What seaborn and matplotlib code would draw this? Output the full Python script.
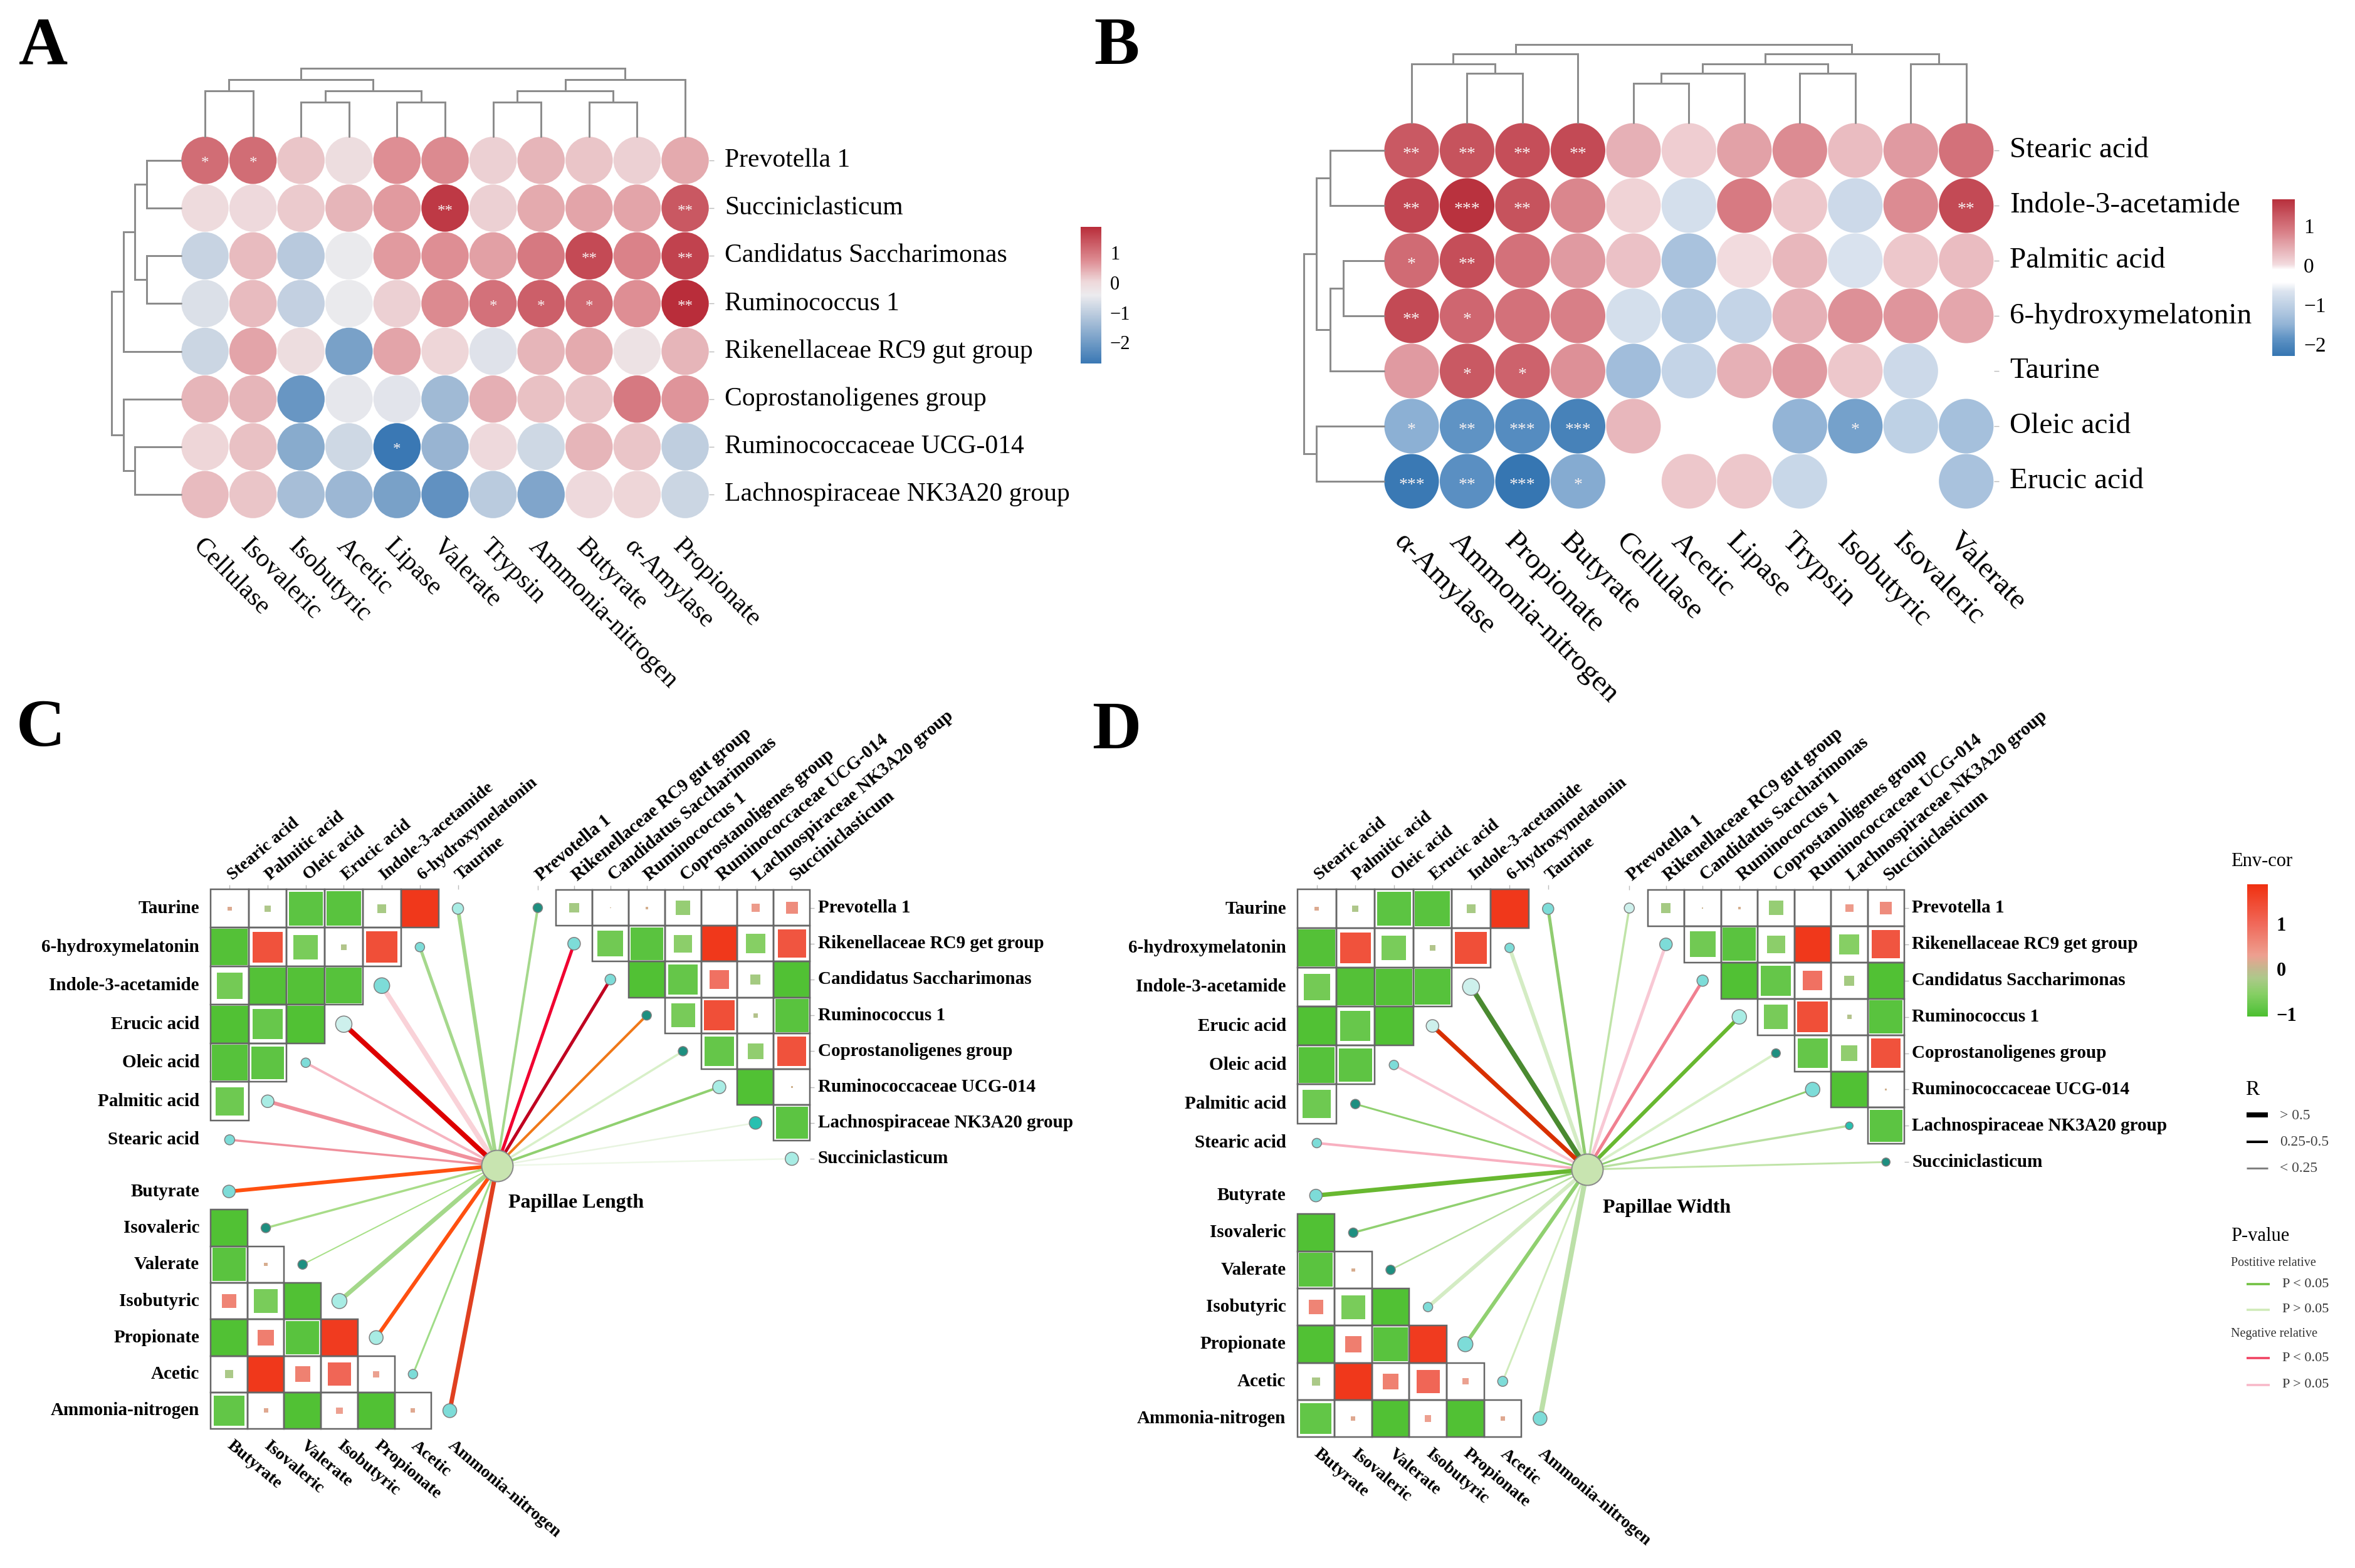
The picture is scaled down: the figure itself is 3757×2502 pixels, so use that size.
import numpy as np
import pandas as pd
import matplotlib
matplotlib.use("Agg")
import matplotlib.pyplot as plt
from matplotlib.cm import ScalarMappable
from matplotlib.colors import LinearSegmentedColormap, Normalize
from matplotlib.patches import Rectangle
from matplotlib.transforms import ScaledTranslation
import seaborn as sns

sns.set_style("white")
plt.rcParams["font.family"] = ["Liberation Serif", "DejaVu Serif"]
plt.rcParams["text.color"] = "black"
plt.rcParams["xtick.labelcolor"] = "black"
plt.rcParams["ytick.labelcolor"] = "black"

W, H = 3757, 2502
PT = 0.72  # px to points at dpi 100

# ---- panel A data
a_cols = ["Cellulase", "Isovaleric", "Isobutyric", "Acetic", "Lipase", "Valerate",
          "Trypsin", "Ammonia-nitrogen", "Butyrate", "α-Amylase", "Propionate"]
a_rows = ["Prevotella 1", "Succiniclasticum", "Candidatus Saccharimonas", "Ruminococcus 1",
          "Rikenellaceae RC9 gut group", "Coprostanoligenes group",
          "Ruminococcaceae UCG-014", "Lachnospiraceae NK3A20 group"]
a_vals = [
    [1.10, 1.10, 0.20, -0.10, 0.70, 0.75, 0.10, 0.35, 0.20, 0.10, 0.45],
    [-0.05, 0.00, 0.15, 0.35, 0.60, 1.70, 0.10, 0.45, 0.50, 0.50, 1.35],
    [-0.90, 0.30, -1.10, -0.45, 0.60, 0.70, 0.55, 0.95, 1.50, 0.85, 1.60],
    [-0.65, 0.30, -0.95, -0.45, 0.10, 0.75, 1.05, 1.25, 1.15, 0.70, 1.85],
    [-0.85, 0.50, -0.10, -1.90, 0.50, 0.05, -0.60, 0.35, 0.45, -0.20, 0.35],
    [0.35, 0.35, -2.10, -0.50, -0.55, -1.40, 0.40, 0.25, 0.20, 0.95, 0.65],
    [0.05, 0.25, -1.70, -0.80, -2.70, -1.50, 0.00, -0.80, 0.35, 0.20, -1.00],
    [0.30, 0.20, -1.30, -1.45, -1.90, -2.20, -1.05, -1.80, 0.00, 0.05, -0.85],
]
a_stars = {(0, 0): "*", (0, 1): "*", (1, 5): "**", (1, 10): "**", (2, 8): "**", (2, 10): "**",
           (3, 6): "*", (3, 7): "*", (3, 8): "*", (3, 10): "**", (6, 4): "*"}
a_col_tree = (109, (91, (73, 0, 1), (73, (54.5, 2, 3), (54.5, 4, 5))),
              (91, (73, (54.5, 6, 7), (54.5, 8, 9)), 10))
a_row_tree = (111, (92, (74, (55, 0, 1), (55, 2, 3)), 4), (92, 5, (74, 6, 7)))

# ---- panel B data
b_cols = ["α-Amylase", "Ammonia-nitrogen", "Propionate", "Butyrate", "Cellulase", "Acetic",
          "Lipase", "Trypsin", "Isobutyric", "Isovaleric", "Valerate"]
b_rows = ["Stearic acid", "Indole-3-acetamide", "Palmitic acid", "6-hydroxymelatonin",
          "Taurine", "Oleic acid", "Erucic acid"]
b_vals = [
    [1.25, 1.30, 1.35, 1.40, 0.40, 0.15, 0.55, 0.75, 0.30, 0.60, 1.00],
    [1.45, 1.65, 1.30, 0.80, 0.10, -0.75, 0.90, 0.20, -0.85, 0.75, 1.40],
    [1.05, 1.35, 1.00, 0.60, 0.25, -1.25, 0.02, 0.35, -0.70, 0.20, 0.30],
    [1.40, 1.10, 1.00, 0.85, -0.75, -1.10, -0.95, 0.40, 0.70, 0.65, 0.50],
    [0.60, 1.25, 1.15, 0.70, -1.35, -0.95, 0.40, 0.60, 0.20, -0.85, np.nan],
    [-1.55, -1.85, -1.95, -2.10, 0.35, np.nan, np.nan, -1.50, -1.70, -1.00, -1.30],
    [-2.25, -1.90, -2.30, -1.60, np.nan, 0.20, 0.20, -0.90, np.nan, np.nan, -1.25],
]
b_stars = {(0, 0): "**", (0, 1): "**", (0, 2): "**", (0, 3): "**",
           (1, 0): "**", (1, 1): "***", (1, 2): "**", (1, 10): "**",
           (2, 0): "*", (2, 1): "**", (3, 0): "**", (3, 1): "*", (4, 1): "*", (4, 2): "*",
           (5, 0): "*", (5, 1): "**", (5, 2): "***", (5, 3): "***", (5, 8): "*",
           (6, 0): "***", (6, 1): "**", (6, 2): "***", (6, 3): "*"}
b_col_tree = (125.5, (110, (94, 0, (79, 1, 2)), 3),
              (110, (94, (79, (63, 4, 5), 6), (79, 7, 8)), (94, 9, 10)))
b_row_tree = (128, (108, (86, 0, 1), (86, (65, 2, 3), 4)), (108, 5, 6))

# ---- panels C and D: shared correlation triangles
acid_cols = ["Stearic acid", "Palmitic acid", "Oleic acid", "Erucic acid",
             "Indole-3-acetamide", "6-hydroxymelatonin", "Taurine"]
acid_rows = acid_cols[::-1]
acid_tri = [
    [0.18, -0.17, -0.90, -0.93, -0.24, 1.75],
    [-0.98, 1.35, -0.65, -0.15, 1.40],
    [-0.70, -0.98, -0.97, -0.95],
    [-1.00, -0.80, -1.00],
    [-0.95, -0.88],
    [-0.75],
    [],
]
vfa_cols = ["Butyrate", "Isovaleric", "Valerate", "Isobutyric", "Propionate", "Acetic",
            "Ammonia-nitrogen"]
vfa_tri = [
    [],
    [-1.00],
    [-0.92, 0.15],
    [0.65, -0.65, -1.00],
    [-1.00, 0.73, -0.93, 1.70],
    [-0.22, 1.75, 0.70, 1.05, 0.28],
    [-0.85, 0.20, -1.00, 0.30, -1.00, 0.20],
]
bact_cols = ["Prevotella 1", "Rikenellaceae RC9 gut group", "Candidatus Saccharimonas",
             "Ruminococcus 1", "Coprostanoligenes group", "Ruminococcaceae UCG-014",
             "Lachnospiraceae NK3A20 group", "Succiniclasticum"]
bact_rows = ["Prevotella 1", "Rikenellaceae RC9 get group", "Candidatus Saccharimonas",
             "Ruminococcus 1", "Coprostanoligenes group", "Ruminococcaceae UCG-014",
             "Lachnospiraceae NK3A20 group", "Succiniclasticum"]
bact_tri = [
    [-0.27, 0.05, 0.12, -0.40, 0.00, 0.36, 0.55],
    [-0.72, -0.92, -0.50, 1.75, -0.55, 1.30],
    [-1.00, -0.83, 0.90, -0.28, -1.00],
    [-0.67, 1.40, -0.13, -0.93],
    [-0.83, -0.45, 1.35],
    [-1.00, 0.10],
    [-0.90],
    [],
]

TEAL, AQUA, PALE, MIST, SEA = "#1e8f80", "#7ddcd8", "#a8ece4", "#cdf0ec", "#28c0b0"

# link order: acid rows, vfa rows, bacteria rows
c_link_colors = ["#a4d88a", "#a5d88c", "#f9d2d8", "#dd0000", "#f6b4c0", "#f0909c", "#f0909c",
                 "#ff5010", "#a8dc88", "#a8e088", "#a4d88a", "#ff5010", "#a0dc88", "#e04020",
                 "#a5d88c", "#f00030", "#c00020", "#f07818", "#d8f0c8", "#90d070", "#e8f4e0", "#eef8e8"]
c_link_widths = [6, 5, 8, 8, 4, 6, 3.5, 6, 3.5, 2, 7, 6, 3, 7, 4, 5, 5, 4, 3.5, 4, 2.5, 2.5]
c_node_sizes = [18, 15, 25, 26, 15, 20, 16, 20, 15, 15, 24, 22, 15, 22, 15, 20, 17, 15, 15, 21, 20, 21]
c_node_fills = [PALE, AQUA, AQUA, MIST, AQUA, PALE, AQUA, AQUA, TEAL, TEAL, PALE, PALE, AQUA, AQUA,
                TEAL, AQUA, AQUA, TEAL, TEAL, PALE, SEA, PALE]

d_link_colors = ["#90cc70", "#d4ecc4", "#4a8a30", "#d83000", "#f8c8d4", "#90d070", "#f8b0c0",
                 "#68b830", "#90d070", "#b8e0a0", "#d4ecc4", "#90d070", "#d0ecbc", "#bce0a8",
                 "#c0e4a8", "#f8c8d4", "#f08090", "#68b830", "#d8f0c8", "#90d070", "#b8e0a0", "#c0e4a8"]
d_link_widths = [5, 6, 8, 7, 4, 3, 4, 7, 3.5, 2.5, 6, 6, 3, 8, 3.5, 5, 5, 6, 4, 3, 3.5, 3]
d_node_sizes = [18, 15, 27, 20, 15, 15, 15, 20, 15, 15, 15, 24, 16, 22, 16, 20, 18, 23, 14, 23, 12, 13]
d_node_fills = [AQUA, AQUA, MIST, MIST, AQUA, TEAL, AQUA, AQUA, TEAL, TEAL, AQUA, AQUA, AQUA, AQUA,
                MIST, AQUA, AQUA, PALE, TEAL, AQUA, SEA, TEAL]

# ---- colour scales
a_norm = Normalize(-2.7, 1.85)
a_cmap = LinearSegmentedColormap.from_list(
    "a", [(0, "#3a78b4"), (0.5, "#ecebee"), (0.6, "#eed8da"), (0.75, "#de8e94"), (1, "#b92d3a")])
b_norm = Normalize(-2.3, 1.67)
b_cmap = LinearSegmentedColormap.from_list(
    "b", [(0, "#3676b2"), (0.113, "#5f93c4"), (0.2, "#93b4d6"), (0.42, "#dfe6f0"), (0.47, "#ffffff"),
          (0.55, "#ffffff"), (0.58, "#f3dde0"), (0.8, "#d87d85"), (1, "#b8303d")])
env_norm = Normalize(-1.05, 1.88)
env_cmap = LinearSegmentedColormap.from_list(
    "env", [(0, "#4cbf2e"), (0.05, "#5cc442"), (0.17, "#86cf64"), (0.29, "#adc98a"),
            (0.358, "#c2b98f"), (0.46, "#eda090"), (0.70, "#f0695a"), (1, "#f03010")])


def px_axes(x0, y0, x1, y1, **kw):
    return fig.add_axes([x0 / W, 1 - y1 / H, (x1 - x0) / W, (y1 - y0) / H], **kw)


def shift_labels(labels, dx, dy):
    # move tick labels by a few px without touching the ticks
    off = ScaledTranslation(dx * PT / 72, -dy * PT / 72, fig.dpi_scale_trans)
    for lab in labels:
        lab.set_transform(lab.get_transform() + off)


def draw_tree(node, leaves, base, side):
    if not isinstance(node, tuple):
        return leaves[node], 0
    h, left, right = node
    p0, h0 = draw_tree(left, leaves, base, side)
    p1, h1 = draw_tree(right, leaves, base, side)
    pos = np.array([p0, p0, p1, p1])
    hts = base - np.array([h0, h, h, h1])
    xy = (pos, hts) if side == "top" else (hts, pos)
    top.plot(*xy, color="#8c8c8c", lw=3 * PT, solid_joinstyle="miter", zorder=2)
    return (p0 + p1) / 2, h


def bubble_panel(box, rows, cols, vals, stars, norm, cmap, fs, star_fs, col_tree, row_tree, lab_shift):
    ax = px_axes(*box)
    vals = np.array(vals, dtype=float)
    sns.heatmap(np.zeros(vals.shape), cmap=["white"], cbar=False, ax=ax,
                xticklabels=cols, yticklabels=rows)
    long = pd.DataFrame(vals, index=range(len(rows)), columns=range(len(cols)))
    long = long.stack().rename("v").reset_index()
    long["x"] = long["level_1"] + 0.5
    long["y"] = long["level_0"] + 0.5
    cell = (box[2] - box[0]) / len(cols)
    sns.scatterplot(data=long, x="x", y="y", hue="v", palette=cmap, hue_norm=norm,
                    s=(cell * 0.985 * PT) ** 2, linewidth=0, legend=False, ax=ax, clip_on=False)
    ax.set_xlabel("")
    ax.set_ylabel("")
    for (r, c), star in stars.items():
        ax.annotate(star, (c + 0.5, r + 0.5), xytext=(0, -star_fs * 0.22), textcoords="offset points",
                    ha="center", va="center", color="#f8f2f2", fontsize=star_fs)
    ax.yaxis.tick_right()
    ax.tick_params(axis="both", length=6, width=1, color="#bbbbbb", pad=12)
    ax.tick_params(axis="x", pad=fs * 0.9)
    plt.setp(ax.get_yticklabels(), rotation=0, fontsize=fs, va="center")
    plt.setp(ax.get_xticklabels(), rotation=-45, ha="left", va="center",
             rotation_mode="anchor", fontsize=fs)
    shift_labels(ax.get_xticklabels(), *lab_shift)
    cx = [box[0] + cell * (i + 0.5) for i in range(len(cols))]
    rh = (box[3] - box[1]) / len(rows)
    ry = [box[1] + rh * (i + 0.5) for i in range(len(rows))]
    draw_tree(col_tree, cx, box[1], "top")
    draw_tree(row_tree, ry, box[0], "left")


def colorbar(box, norm, cmap, ticks, fs, weight="normal", tick_len=8):
    cax = px_axes(*box)
    cb = fig.colorbar(ScalarMappable(norm=norm, cmap=cmap), cax=cax)
    cb.outline.set_visible(False)
    cb.set_ticks(ticks)
    cax.yaxis.set_ticks_position("both")
    cax.tick_params(axis="y", direction="in", color="white", length=tick_len, width=2,
                    labelsize=fs, pad=10, labelright=True, labelleft=False)
    plt.setp(cax.get_yticklabels(), fontweight=weight)


def to_matrix(tri, n_cols, start_after_diag=False):
    m = np.full((len(tri), n_cols), np.nan)
    for j, row in enumerate(tri):
        off = j + 1 if start_after_diag else 0
        m[j, off:off + len(row)] = row
    return m


def tri_block(x0, y0, pitch_x, pitch_y, mat, rows, cols, where):
    n_r, n_c = mat.shape
    ax = px_axes(x0, y0, x0 + pitch_x * n_c, y0 + pitch_y * n_r)
    sns.heatmap(np.zeros(mat.shape), mask=np.isnan(mat), cmap=["white"], cbar=False, ax=ax,
                xticklabels=cols, yticklabels=rows)
    long = pd.DataFrame(mat).stack().rename("v").reset_index()
    long["x"] = long["level_1"] + 0.5
    long["y"] = long["level_0"] + 0.5
    frac = np.where(long["v"] < 0, -long["v"], long["v"] / 1.65).clip(0, 1)
    long["area"] = (frac * pitch_x * 0.98 * PT) ** 2
    amax = (pitch_x * PT) ** 2
    sns.scatterplot(data=long, x="x", y="y", hue="v", palette=env_cmap, hue_norm=env_norm,
                    size="area", sizes=(0, amax), size_norm=(0, amax), marker="s",
                    linewidth=0, legend=False, ax=ax)
    for _, row in long.iterrows():
        ax.add_patch(Rectangle((row["level_1"], row["level_0"]), 1, 1, facecolor="none",
                               edgecolor="#666666", lw=2.5 * PT, zorder=3, clip_on=False))
    ax.set_xlabel("")
    ax.set_ylabel("")
    ax.tick_params(axis="both", length=5, width=1, color="#bbbbbb", pad=8)
    if where == "bact":
        ax.yaxis.tick_right()
        ax.tick_params(axis="y", pad=4)
    if where in ("acid", "bact"):
        ax.xaxis.tick_top()
        plt.setp(ax.get_xticklabels(), rotation=40, ha="left", va="center", rotation_mode="anchor",
                 fontsize=21 if where == "bact" else 20, fontweight="bold")
        ax.tick_params(axis="x", pad=9)
    else:
        plt.setp(ax.get_xticklabels(), rotation=-40, ha="left", va="center", rotation_mode="anchor",
                 fontsize=20, fontweight="bold")
        ax.tick_params(axis="x", pad=12)
    plt.setp(ax.get_yticklabels(), rotation=0, va="center", fontsize=21, fontweight="bold")
    return ax


def network_panel(acid_box, vfa_box, bact_box, hub, hub_label, label_xy, colors, widths, sizes, fills):
    acid_m = to_matrix(acid_tri, 7)
    vfa_m = to_matrix(vfa_tri, 7)
    bact_m = to_matrix(bact_tri, 8, start_after_diag=True)
    tri_block(*acid_box, acid_m, acid_rows, acid_cols, "acid")
    tri_block(*vfa_box, vfa_m, vfa_cols, vfa_cols, "vfa")
    tri_block(*bact_box, bact_m, bact_rows, bact_cols, "bact")

    nodes = []
    x0, y0, px, py = acid_box
    nodes += [(x0 + px * (6 - j + 0.5), y0 + py * (j + 0.5)) for j in range(7)]
    x0, y0, px, py = vfa_box
    nodes += [(x0 + px * (j + 0.5), y0 + py * (j + 0.5)) for j in range(7)]
    x0, y0, px, py = bact_box
    nodes += [(x0 + px * (j + 0.5), y0 + py * (j + 0.5)) for j in range(8)]

    for (nx, ny), c, lw in zip(nodes, colors, widths):
        top.plot([hub[0], nx], [hub[1], ny], color=c, lw=lw * PT, solid_capstyle="butt", zorder=1)

    df = pd.DataFrame(nodes, columns=["x", "y"])
    df["fill"] = fills
    df["area"] = [(d * PT) ** 2 for d in sizes]
    sns.scatterplot(data=df, x="x", y="y", hue="fill", palette={f: f for f in set(fills)},
                    size="area", sizes=(df["area"].min(), df["area"].max()),
                    size_norm=(df["area"].min(), df["area"].max()),
                    edgecolor="#7f7f7f", linewidth=1.5 * PT, legend=False, ax=top, zorder=3)
    top.scatter([hub[0]], [hub[1]], s=(50 * PT) ** 2, color="#c8e4b0", edgecolor="#8a8a8a",
                linewidth=2 * PT, zorder=4)
    top.text(*label_xy, hub_label, fontsize=23, fontweight="bold", va="center", ha="left")


fig = plt.figure(figsize=(W / 100, H / 100), dpi=100, facecolor="white")

top = fig.add_axes([0, 0, 1, 1], zorder=10)
top.set_xlim(0, W)
top.set_ylim(H, 0)
top.patch.set_alpha(0)

bubble_panel((288.7, 217.8, 1131.3, 827.2), a_rows, a_cols, a_vals, a_stars, a_norm, a_cmap,
             30, 18, a_col_tree, a_row_tree, (-14, -7))
colorbar((1724, 362, 1757, 580), a_norm, a_cmap, [-2, -1, 0, 1], 22)

bubble_panel((2207.75, 196, 3181, 812), b_rows, b_cols, b_vals, b_stars, b_norm, b_cmap,
             34, 20, b_col_tree, b_row_tree, (-22, -5))
colorbar((3625, 318, 3661, 568), b_norm, b_cmap, [-2, -1, 0, 1], 24)

network_panel((336, 1419, 60.7, 61.5), (336, 1872, 58.7, 58.3), (829, 1420, 57.9, 57.2),
              (793, 1860), "Papillae Length", (811, 1920),
              c_link_colors, c_link_widths, c_node_sizes, c_node_fills)
network_panel((2070, 1419, 61.5, 62.3), (2069.5, 1878, 59.6, 59.3), (2570, 1420, 58.5, 57.9),
              (2532, 1866), "Papillae Width", (2557, 1927),
              d_link_colors, d_link_widths, d_node_sizes, d_node_fills)

colorbar((3585, 1411, 3618, 1622), env_norm, env_cmap, [-1, 0, 1], 22, weight="bold", tick_len=6)

# legends on the right of panel D
top.text(3559, 1374, "Env-cor", fontsize=22, va="center")
top.text(3582, 1739, "R", fontsize=24, va="center")
r_labels = ["> 0.5", "0.25-0.5", "< 0.25"]
r_widths = [8, 4, 3]
r_colors = ["black", "black", "#808080"]
for i, (lab, lw, col) in enumerate(zip(r_labels, r_widths, r_colors)):
    yy = 1779 + 42.5 * i
    top.plot([3584, 3618], [yy, yy], color=col, lw=lw * PT, solid_capstyle="butt")
    top.text(3637, yy + 1, lab, fontsize=17, va="center", color="#444444")
top.text(3559, 1973, "P-value", fontsize=22, va="center")
top.text(3559, 2015, "Postitive relative", fontsize=14.5, va="center", color="#333333")
top.text(3559, 2128, "Negative relative", fontsize=14.5, va="center", color="#333333")
p_labels = ["P < 0.05", "P > 0.05", "P < 0.05", "P > 0.05"]
p_colors = ["#70c040", "#cfeab8", "#f04060", "#f8b8c8"]
p_ys = [2049, 2090, 2167, 2210]
for lab, col, yy in zip(p_labels, p_colors, p_ys):
    top.plot([3584, 3621], [yy, yy], color=col, lw=3.5 * PT, solid_capstyle="butt")
    top.text(3641, yy, lab, fontsize=16, va="center", color="#333333")

# panel letters
panel_letters = ["A", "B", "C", "D"]
letter_xy = [(30, 76), (1745, 76), (26, 1164), (1742, 1168)]
for letter, (lx, ly) in zip(panel_letters, letter_xy):
    top.text(lx, ly, letter, fontsize=78, fontweight="bold", va="center", ha="left")

top.set_xlabel("")
top.set_ylabel("")
top.set_xlim(0, W)
top.set_ylim(H, 0)
top.axis("off")

fig.savefig("out.png", dpi=100, facecolor="white")
